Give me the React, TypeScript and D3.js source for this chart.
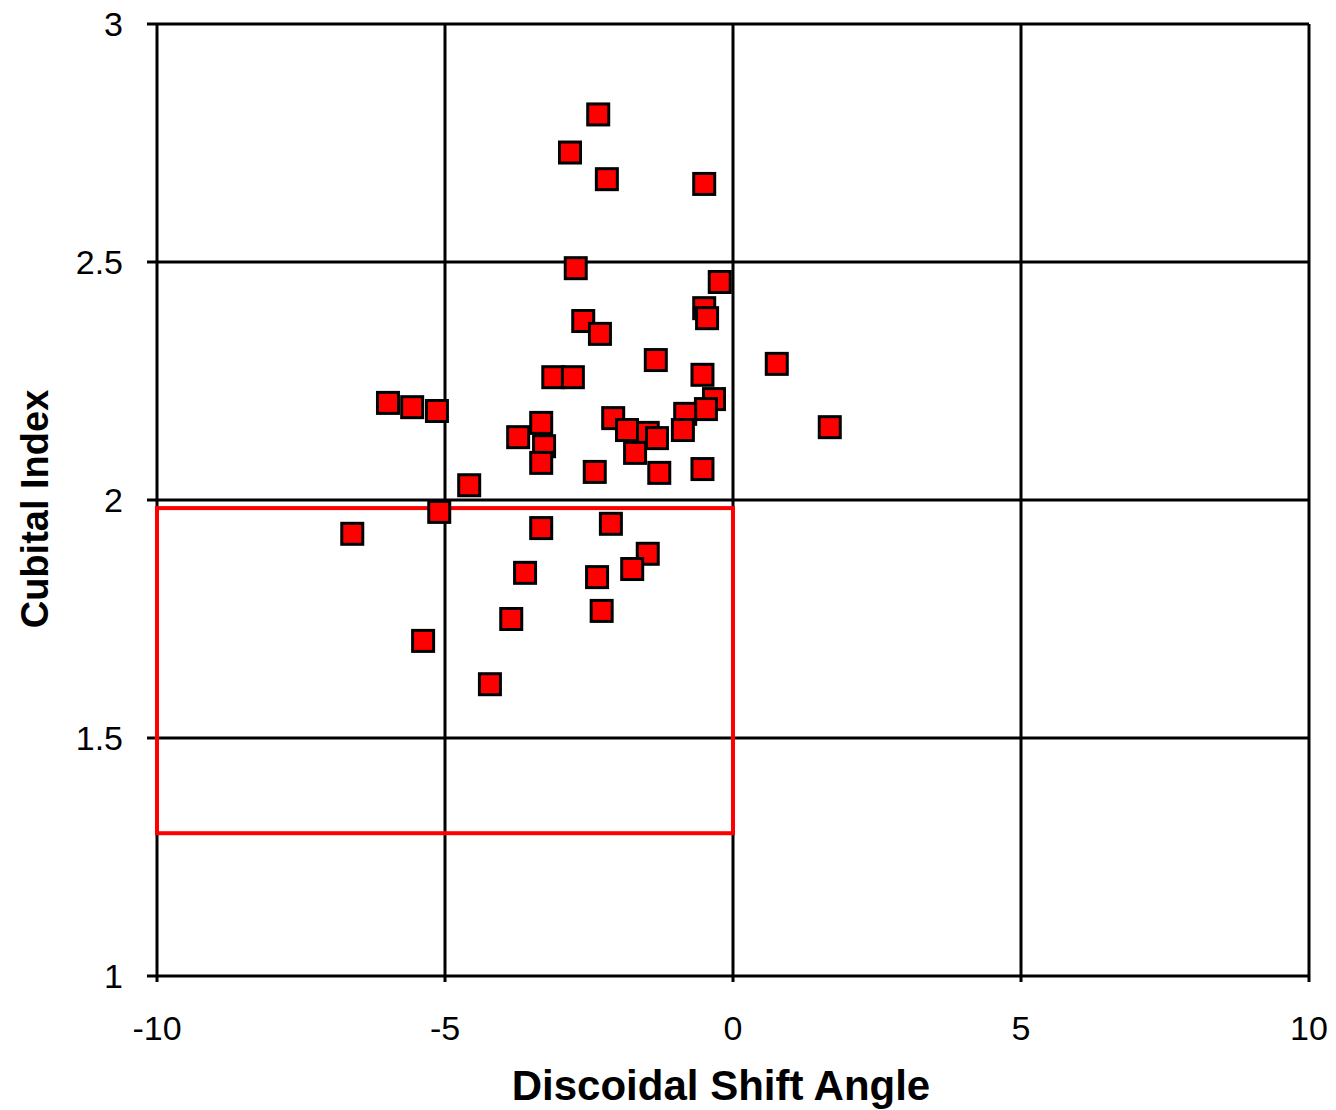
import React, { useEffect, useRef } from "react";
import * as d3 from "d3";

// Discoidal shift angle (x) vs cubital index (y), one entry per specimen
const shiftAngle: number[] = [
  -2.34, -2.83, -2.19, -0.5, -2.73, -0.23, -0.5, -0.45, -2.6, -2.31, -1.34, 0.76,
  -3.12, -2.78, -0.53, -5.99, -5.57, -5.14, -0.33, -0.47, -0.83, -0.87, -2.08,
  -1.48, -1.84, -1.32, -3.33, -3.73, -3.28, -3.33, -1.7, -2.4, -1.28, -0.53,
  -4.58, -5.1, -6.61, -3.33, -2.12, -1.48, -1.75, -3.61, -2.36, -3.85, -2.28,
  -5.38, -4.22, 1.68,
];
const cubitalIndex: number[] = [
  2.81, 2.73, 2.674, 2.664, 2.487, 2.458, 2.403, 2.382, 2.376, 2.349, 2.294, 2.286,
  2.258, 2.258, 2.263, 2.204, 2.195, 2.187, 2.212, 2.191, 2.181, 2.147, 2.172,
  2.141, 2.147, 2.13, 2.162, 2.132, 2.113, 2.078, 2.099, 2.059, 2.057, 2.065,
  2.031, 1.975, 1.929, 1.941, 1.95, 1.887, 1.855, 1.847, 1.838, 1.75, 1.767,
  1.704, 1.613, 2.153,
];

const xTicks: number[] = [-10, -5, 0, 5, 10];
const yTicks: number[] = [1, 1.5, 2, 2.5, 3];

// highlighted region: x from -10 to 0, y from 1.3 to 1.98
const boxX: number[] = [-10, 0];
const boxY: number[] = [1.3, 1.983];

const App: React.FC = () => {
  const svgRef = useRef<SVGSVGElement>(null);

  useEffect(() => {
    const margin = { top: 24, right: 27, bottom: 134, left: 157 };
    const width = 1336 - margin.left - margin.right;
    const height = 1110 - margin.top - margin.bottom;

    const svg = d3.select(svgRef.current);
    svg.selectAll("*").remove();

    const g = svg
      .append("g")
      .attr("transform", `translate(${margin.left},${margin.top})`);

    const x = d3.scaleLinear().domain([-10, 10]).range([0, width]);
    const y = d3.scaleLinear().domain([1, 3]).range([height, 0]);

    // grid
    g.selectAll(".vgrid")
      .data(xTicks)
      .enter()
      .append("line")
      .attr("x1", (d) => x(d))
      .attr("x2", (d) => x(d))
      .attr("y1", 0)
      .attr("y2", height + 6)
      .attr("stroke", "#000")
      .attr("stroke-width", 3);

    g.selectAll(".hgrid")
      .data(yTicks)
      .enter()
      .append("line")
      .attr("x1", -10)
      .attr("x2", width)
      .attr("y1", (d) => y(d))
      .attr("y2", (d) => y(d))
      .attr("stroke", "#000")
      .attr("stroke-width", 3);

    // tick labels
    g.selectAll(".ylab")
      .data(yTicks)
      .enter()
      .append("text")
      .attr("x", -34)
      .attr("y", (d) => y(d))
      .attr("dy", "0.36em")
      .attr("text-anchor", "end")
      .attr("font-family", "Arial, 'Liberation Sans', sans-serif")
      .attr("font-size", 34)
      .text((d) => String(d));

    g.selectAll(".xlab")
      .data(xTicks)
      .enter()
      .append("text")
      .attr("x", (d) => x(d))
      .attr("y", height + 64)
      .attr("text-anchor", "middle")
      .attr("font-family", "Arial, 'Liberation Sans', sans-serif")
      .attr("font-size", 34)
      .text((d) => String(d));

    // red box
    g.append("rect")
      .attr("x", x(boxX[0]))
      .attr("y", y(boxY[1]))
      .attr("width", x(boxX[1]) - x(boxX[0]))
      .attr("height", y(boxY[0]) - y(boxY[1]))
      .attr("fill", "none")
      .attr("stroke", "#ff0000")
      .attr("stroke-width", 4);

    // points
    const size = 21;
    g.selectAll(".pt")
      .data(shiftAngle.map((v, i) => ({ sx: v, ci: cubitalIndex[i] })))
      .enter()
      .append("rect")
      .attr("x", (d) => x(d.sx) - size / 2)
      .attr("y", (d) => y(d.ci) - size / 2)
      .attr("width", size)
      .attr("height", size)
      .attr("fill", "#ff0000")
      .attr("stroke", "#000")
      .attr("stroke-width", 3);

    // axis titles
    svg
      .append("text")
      .attr("x", 721)
      .attr("y", 1100)
      .attr("text-anchor", "middle")
      .attr("font-family", "Arial, 'Liberation Sans', sans-serif")
      .attr("font-weight", "bold")
      .attr("font-size", 42)
      .text("Discoidal Shift Angle");

    svg
      .append("text")
      .attr("transform", "translate(48,509) rotate(-90)")
      .attr("text-anchor", "middle")
      .attr("font-family", "Arial, 'Liberation Sans', sans-serif")
      .attr("font-weight", "bold")
      .attr("font-size", 38)
      .text("Cubital Index");
  }, []);

  return (
    <div style={{ position: "absolute", left: 0, top: 0 }}>
      <svg ref={svgRef} width={1336} height={1110} style={{ display: "block", background: "#fff" }}></svg>
    </div>
  );
};

export default App;
